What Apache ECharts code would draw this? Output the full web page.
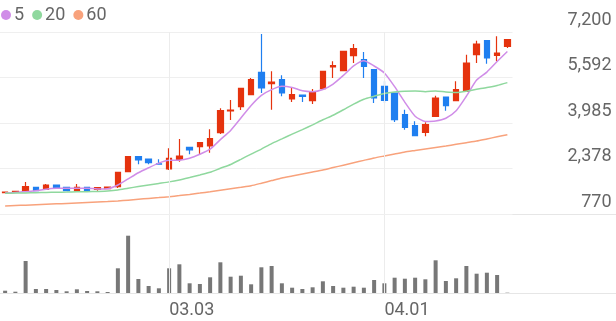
<!DOCTYPE html>
<html><head><meta charset="utf-8">
<script src="https://cdn.jsdelivr.net/npm/echarts@6/dist/echarts.min.js"></script>
<style>html,body{margin:0;padding:0;background:#fff}#c{width:616px;height:321px}</style>
</head><body><div id="c"></div>
<script>
const dates = ['02.03','02.04','02.05','02.06','02.09','02.10','02.11','02.12','02.13','02.19','02.20','02.23','02.24','02.25','02.26','02.27','03.03','03.04','03.05','03.06','03.09','03.10','03.11','03.12','03.13','03.16','03.17','03.18','03.19','03.20','03.23','03.24','03.25','03.26','03.27','03.30','03.31','04.01','04.02','04.03','04.06','04.07','04.08','04.09','04.10','04.13','04.14','04.15','04.16','04.17'];
// [open, close, low, high]
const ohlc = [
[1520,1540,1515,1550],[1555,1570,1550,1575],[1572,1735,1565,1900],[1713,1593,1580,1730],[1643,1795,1630,1830],
[1795,1689,1680,1810],[1713,1593,1572,1720],[1593,1713,1558,1830],[1713,1593,1585,1720],[1643,1699,1593,1710],
[1664,1724,1655,1735],[1735,2243,1689,2250],[2264,2795,2250,2810],[2795,2678,2526,2800],[2713,2582,2526,2720],
[2545,2535,2530,2700],[2360,2737,2324,3091],[2702,2819,2618,3420],[3126,3031,2879,3140],[3148,3289,2854,3300],
[3172,3430,2936,3762],[3642,4420,3596,4504],[4409,4444,4091,4798],[4561,5211,4444,5220],[4985,5515,4975,5575],
[5776,5221,5045,7129],[5373,5433,4455,5811],[5515,5045,4928,5670],[4833,4985,4727,5222],[4974,4928,4727,4985],
[4773,5070,4656,5186],[5197,5812,5161,5833],[5963,6009,5575,6165],[5833,6518,5820,6530],[6363,6610,6105,6776],
[6221,5988,5575,6493],[5868,4868,4692,5880],[5282,4787,4692,5458],[5045,4102,4020,5060],[4278,3833,3748,4455],
[3889,3536,3520,4045],[3656,3925,3515,4010],[4222,4868,4210,4950],[4904,4596,4420,4915],[4773,5161,4760,5458],
[5105,6105,5090,6398],[6398,6776,6105,6893],[6893,6281,6080,6905],[6377,6458,6165,7048],[6695,6928,6635,6940]
];
const ma5 = [1512,1530,1560,1590,1647,1676,1681,1677,1677,1657,1664,1794,2011,2228,2404,2567,2665,2670,2741,2882,3061,3398,3723,4159,4604,4962,5165,5285,5240,5122,5092,5168,5361,5667,6004,6187,5999,5754,5271,4716,4225,4037,4053,4152,4417,4931,5501,5784,6156,6510];
const ma20 = [1500,1508,1515,1522,1530,1538,1545,1553,1560,1568,1580,1615,1680,1740,1795,1850,1905,1975,2060,2148,2242,2385,2520,2701,2887,3064,3256,3422,3592,3753,3921,4099,4260,4452,4653,4826,4932,5031,5084,5111,5117,5092,5113,5082,5065,5109,5176,5238,5312,5412];
const ma60 = [1053,1068,1083,1098,1113,1128,1143,1158,1173,1190,1208,1229,1260,1290,1320,1350,1381,1420,1463,1508,1558,1610,1662,1715,1770,1858,1950,2042,2112,2182,2253,2324,2410,2495,2580,2665,2749,2820,2890,2961,3014,3067,3120,3172,3231,3290,3349,3423,3497,3572];
const volume = [230000,130000,3200000,400000,400000,300000,170000,370000,200000,170000,100000,2470000,5730000,1400000,700000,470000,2470000,2870000,970000,900000,1570000,3070000,1630000,1730000,870000,2570000,2700000,970000,530000,400000,570000,1170000,700000,530000,630000,530000,1300000,970000,1530000,1430000,1530000,1370000,3270000,1200000,1470000,2700000,1930000,2030000,1800000,30000];
const yTickLabels = ['770','2,378','3,985','5,592','7,200'];
const xLabelDates = ['03.03','04.01'];
const maNames = ['5','20','60'];

const RED='#e5330e', BLUE='#1f7ff0', TXT='#666', FONT='Roboto';
const vline = {symbol:['none','none'], silent:true, animation:false, label:{show:false},
  lineStyle:{color:'#ececec', type:'solid', width:1},
  data: xLabelDates.map(d=>({xAxis:d}))};

const chart = echarts.init(document.getElementById('c'), null, {renderer:'canvas'});
chart.setOption({
  animation:false,
  textStyle:{fontFamily:FONT},
  legend:{data:maNames, icon:'circle', itemWidth:10, itemHeight:10, itemGap:8, left:1, top:6, padding:0,
    textStyle:{fontSize:18, color:TXT, fontFamily:FONT, padding:[0,0,0,-2]}},
  graphic:[
    {type:'line', shape:{x1:0,y1:214.5,x2:616,y2:214.5}, style:{stroke:'#e6e6e6',lineWidth:1}, silent:true},
    {type:'line', shape:{x1:0,y1:293.5,x2:616,y2:293.5}, style:{stroke:'#e6e6e6',lineWidth:1}, silent:true}
  ],
  grid:[{left:0, width:512.5, top:32, height:182},{left:0, width:512.5, top:215, height:78}],
  xAxis:[
    {type:'category', gridIndex:0, data:dates, boundaryGap:true, axisLine:{show:false}, axisTick:{show:false}, axisLabel:{show:false}, splitLine:{show:false}},
    {type:'category', gridIndex:1, data:dates, boundaryGap:true, axisLine:{show:false}, axisTick:{show:false}, splitLine:{show:false},
      axisLabel:{show:true, interval:(i,v)=>xLabelDates.includes(v), align:'left', margin:8, fontSize:18, color:TXT, fontFamily:FONT}}
  ],
  yAxis:[
    {type:'value', gridIndex:0, position:'right', min:770, max:7200, interval:1607.5, scale:true,
      axisLine:{show:false}, axisTick:{show:false},
      splitLine:{show:true, lineStyle:{color:'#efefef', width:1}},
      axisLabel:{show:true, margin:99, align:'right', verticalAlign:'bottom', padding:[0,0,3,0], fontSize:18, color:TXT, fontFamily:FONT,
        formatter:(v,i)=>yTickLabels[i]}},
    {type:'value', gridIndex:1, min:0, max:7800000, show:false, splitLine:{show:false}}
  ],
  series:[
    {type:'candlestick', name:'price', xAxisIndex:0, yAxisIndex:0, data:ohlc, barWidth:6,
      itemStyle:{color:RED, color0:BLUE, borderColor:RED, borderColor0:BLUE, borderWidth:1.2},
      markLine:vline},
    {type:'line', name:maNames[0], xAxisIndex:0, yAxisIndex:0, data:ma5, showSymbol:false, smooth:0.2, color:'#d08de8', lineStyle:{width:1.5}},
    {type:'line', name:maNames[1], xAxisIndex:0, yAxisIndex:0, data:ma20, showSymbol:false, smooth:0.2, color:'#8fd89e', lineStyle:{width:1.5}},
    {type:'line', name:maNames[2], xAxisIndex:0, yAxisIndex:0, data:ma60, showSymbol:false, smooth:0.2, color:'#f8a27c', lineStyle:{width:1.5}},
    {type:'bar', name:'vol', xAxisIndex:1, yAxisIndex:1, data:volume, barWidth:4, itemStyle:{color:'#777'}, markLine:vline}
  ]
});
</script></body></html>
